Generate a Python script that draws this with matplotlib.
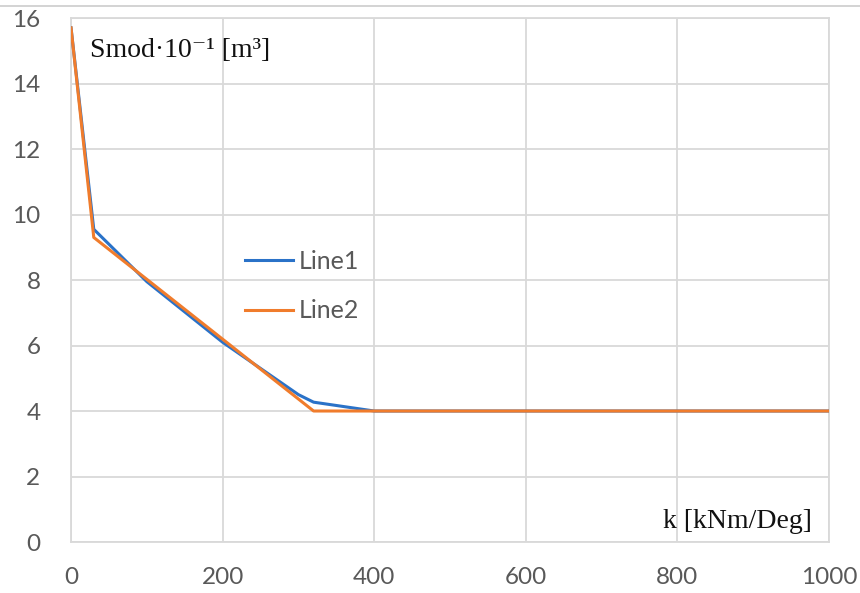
import matplotlib.pyplot as plt
from matplotlib.lines import Line2D

# data
k_line1 = [0, 30, 100, 200, 300, 320, 400, 1000]
s_line1 = [15.7, 9.55, 7.95, 6.1, 4.5, 4.27, 4.0, 4.0]
k_line2 = [0, 30, 320, 1000]
s_line2 = [15.7, 9.3, 4.0, 4.0]
x_ticks = [0, 200, 400, 600, 800, 1000]
y_ticks = [0, 2, 4, 6, 8, 10, 12, 14, 16]

grid_col = '#d9d9d9'
label_col = '#595959'

fig = plt.figure(figsize=(8.6, 5.93), dpi=100)
ax = fig.add_axes([0.0826, 0.086, 0.8814, 0.8836])

ax.plot(k_line1, s_line1, color='#2a72c8', lw=2.2, label='Line1', zorder=3)
ax.plot(k_line2, s_line2, color='#f07c2c', lw=2.2, label='Line2', zorder=4)

ax.set_xlim(0, 1000)
ax.set_ylim(0, 16)
ax.set_xticks(x_ticks)
ax.set_yticks(y_ticks)
ax.grid(True, color=grid_col, lw=1.3)
ax.set_axisbelow(True)
for sp in ax.spines.values():
    sp.set_color(grid_col)
    sp.set_linewidth(1.3)
ax.tick_params(length=0, labelsize=17.5, labelcolor=label_col)
ax.tick_params(axis='x', pad=18)
ax.tick_params(axis='y', pad=22)
for lab in ax.get_xticklabels() + ax.get_yticklabels():
    lab.set_fontfamily('Lato')

# axis titles inside the plot, placed in pixels (origin bottom-left)
serif = ['Liberation Serif', 'DejaVu Serif']
ax.text(90, 593 - 57, 'Smod·10⁻¹ [m³]', transform=None, fontsize=20,
        family=serif, color='#111111', ha='left', va='baseline')
ax.text(812, 593 - 528, 'k [kNm/Deg]', transform=None, fontsize=20,
        family=serif, color='#111111', ha='right', va='baseline')

leg = ax.legend(loc='upper left', bbox_to_anchor=(0.2, 0.6), frameon=False,
                prop={'family': 'Lato', 'size': 18}, handlelength=1.9,
                handletextpad=0.25, labelspacing=1.05)
for t in leg.get_texts():
    t.set_color(label_col)

# thin border line at the top of the picture
fig.add_artist(Line2D([0, 1], [1 - 6 / 593, 1 - 6 / 593], color='#cccccc', lw=1.2))

fig.savefig('out.png', dpi=100)
